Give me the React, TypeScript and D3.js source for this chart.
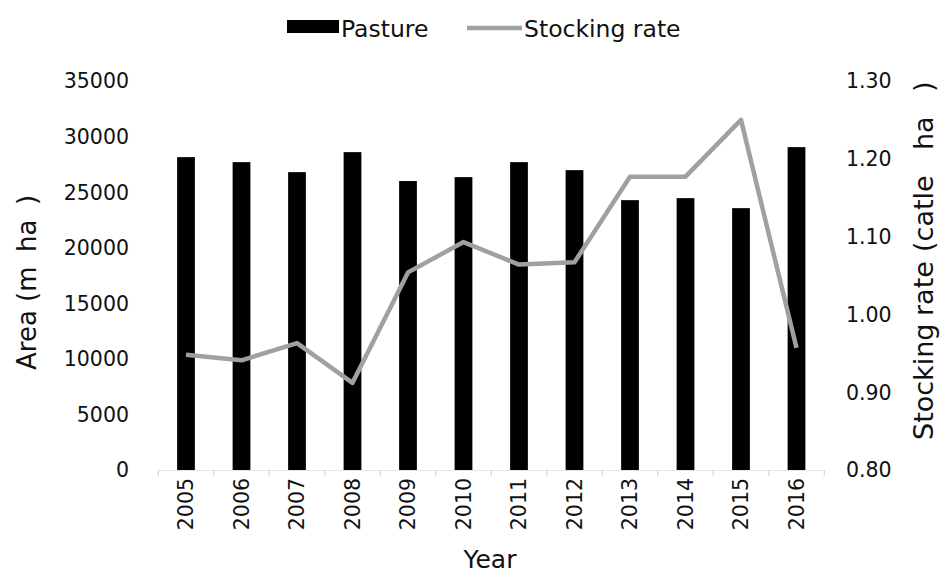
import React from "react";
import * as d3 from "d3";

const years = ["2005","2006","2007","2008","2009","2010","2011","2012","2013","2014","2015","2016"];
const pasture = [28150, 27700, 26800, 28600, 26000, 26350, 27700, 26980, 24280, 24460, 23560, 29050];
const stockingRate = [0.948, 0.941, 0.963, 0.912, 1.054, 1.093, 1.064, 1.067, 1.177, 1.177, 1.250, 0.957];
const leftTicks = [0, 5000, 10000, 15000, 20000, 25000, 30000, 35000];
const rightTicks = [0.8, 0.9, 1.0, 1.1, 1.2, 1.3];

const W = 942, H = 575;
const FONT = "'DejaVu Sans', Verdana, sans-serif";

export default function App() {
  const x = d3.scaleBand<string>().domain(years).range([158.25, 824.25]).paddingInner(0.68).paddingOuter(0.34);
  const yL = d3.scaleLinear().domain([0, 35000]).range([470, 81]);
  const yR = d3.scaleLinear().domain([0.8, 1.3]).range([470, 81]);
  const cx = (y: string) => (x(y) as number) + x.bandwidth() / 2;
  const line = d3.line<number>().x((_, i) => cx(years[i])).y(d => yR(d));
  const fmtR = d3.format(".2f");

  return (
    <svg width={W} height={H} style={{ position: "absolute", left: 0, top: 0, background: "#fff" }} fontFamily={FONT}>
      {/* legend */}
      <g>
        <rect x={287} y={20} width={52} height={13} fill="#000" />
        <text x={341} y={37} fontSize={23.5} fill="#111">Pasture</text>
        <line x1={467} x2={522} y1={28} y2={28} stroke="#a0a0a0" strokeWidth={4.5} />
        <text x={524} y={37} fontSize={23.5} fill="#111">Stocking rate</text>
      </g>

      {/* x axis ticks */}
      <line x1={158} x2={824} y1={470.5} y2={470.5} stroke="#e6e6e6" strokeWidth={1} />
      {d3.range(years.length + 1).map(i => {
        const px = 158.25 + i * x.step();
        return <line key={"t" + i} x1={px} x2={px} y1={470} y2={476} stroke="#d0d0d0" strokeWidth={1} />;
      })}

      {/* bars */}
      {years.map((yr, i) => (
        <rect key={yr} x={x(yr)} y={yL(pasture[i])} width={x.bandwidth()} height={yL(0) - yL(pasture[i])} fill="#000" />
      ))}

      {/* line */}
      <path d={line(stockingRate) || ""} fill="none" stroke="#a0a0a0" strokeWidth={4.5} strokeLinejoin="round" />

      {/* left axis labels */}
      {leftTicks.map(t => (
        <text key={"l" + t} x={129} y={yL(t)} dy="0.36em" textAnchor="end" fontSize={20.5} fill="#111">{t}</text>
      ))}
      {/* right axis labels */}
      {rightTicks.map(t => (
        <text key={"r" + t} x={846} y={yR(t)} dy="0.36em" textAnchor="start" fontSize={20.5} fill="#111">{fmtR(t)}</text>
      ))}
      {/* x labels */}
      {years.map(yr => (
        <text key={"x" + yr} transform={`translate(${cx(yr) + 7},478) rotate(-90)`} textAnchor="end" fontSize={20.5} fill="#111">{yr}</text>
      ))}

      {/* axis titles */}
      <text x={490} y={568} textAnchor="middle" fontSize={25} fill="#111">Year</text>
      <text transform="translate(36,0) rotate(-90)" fontSize={26} fill="#111">
        <tspan x={-370}>Area (m</tspan><tspan x={-252}>ha</tspan><tspan x={-205}>)</tspan>
      </text>
      <text transform="translate(933,0) rotate(-90)" fontSize={27} fill="#111">
        <tspan x={-440}>Stocking</tspan><tspan x={-316}>rate</tspan><tspan x={-252}>(catle</tspan><tspan x={-150}>ha</tspan><tspan x={-92}>)</tspan>
      </text>
    </svg>
  );
}
